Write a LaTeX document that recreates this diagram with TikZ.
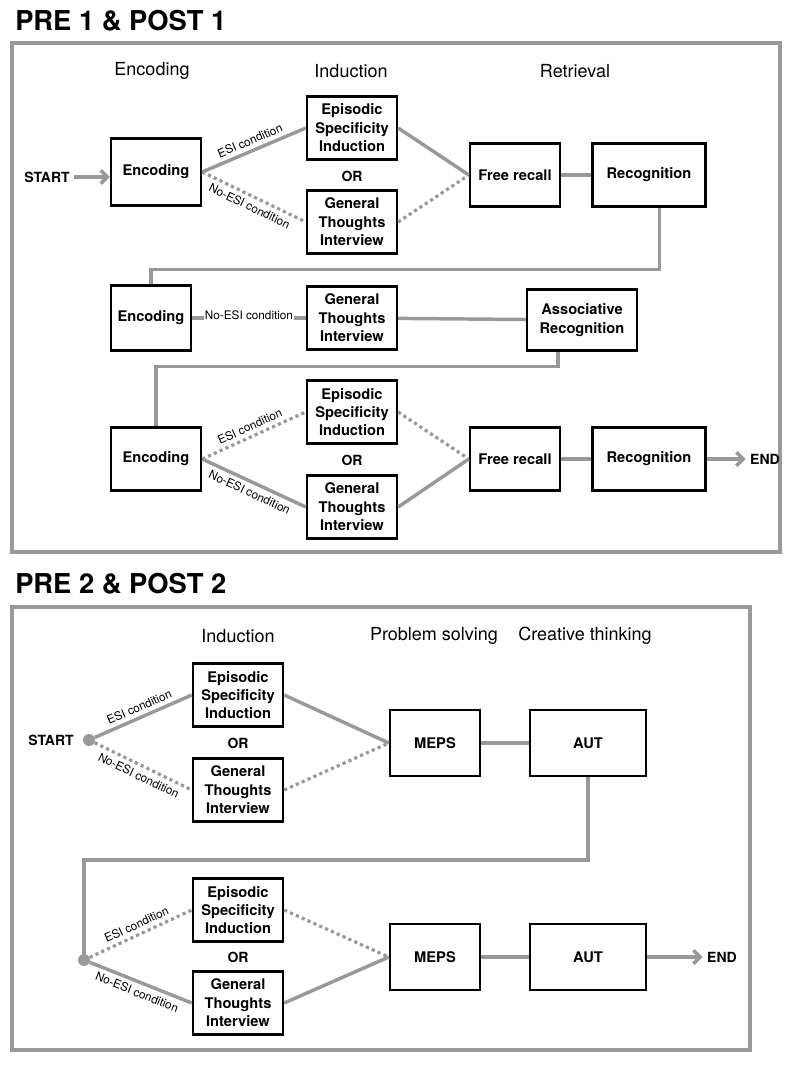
\documentclass[tikz,border=0pt]{standalone}
\usepackage{fontspec}
\setmainfont{TeX Gyre Heros}
\usetikzlibrary{arrows.meta,positioning}

\begin{document}
\begin{tikzpicture}[x=0.75pt, y=-0.75pt,
  stg/.style={rectangle, draw=black, line width=1.8pt, minimum width=67.5pt,
              minimum height=47pt, align=center, inner sep=2pt,
              font=\fontsize{11}{13.8}\selectfont\bfseries},
  hd/.style={font=\fontsize{13.5}{16}\selectfont},
  ttl/.style={font=\fontsize{20.5}{24}\selectfont\bfseries, anchor=west, inner sep=0pt},
  lbl/.style={font=\fontsize{10.5}{13}\selectfont\bfseries},
  cnd/.style={font=\fontsize{8.8}{10}\selectfont, sloped, inner sep=3pt},
  ln/.style={draw=black!40, line width=2.6pt},
  dln/.style={draw=black!40, line width=2.4pt, dash pattern=on 2.4pt off 2.4pt},
  frm/.style={draw=black!40, line width=3pt},
  arr/.style={ln, -{Straight Barb[length=5pt,width=10pt]}},
  dot/.style={circle, fill=black!40, minimum size=9pt, inner sep=0pt}
]
  \useasboundingbox (0,0) rectangle (800,1066);

  % PRE 1 & POST 1
  \node[ttl] (t1) at (15,21) {PRE 1 \& POST 1};
  \draw[frm] (12,43) rectangle (780,552);
  \node[hd] (h1) at (152,71) {Encoding};
  \node[hd] (h2) at (351,71) {Induction};
  \node[hd] (h3) at (575,71) {Retrieval};

  \node[lbl] (st1) at (47,177) {START};
  \node[stg, minimum height=50pt] (en1) at (156,172) {Encoding};
  \node[stg] (esi1) at (352,128) {Episodic\\Specificity\\Induction};
  \node[lbl] (or1) at (352,176) {OR};
  \node[stg] (gti1) at (352,222) {General\\Thoughts\\Interview};
  \node[stg] (fr1) at (515,175) {Free recall};
  \node[stg, minimum width=85pt] (rc1) at (649,175) {Recognition};

  \node[stg, minimum width=60pt, minimum height=49pt] (en2) at (151,318) {Encoding};
  \node[stg] (gti2) at (352,318) {General\\Thoughts\\Interview};
  \node[stg, minimum width=82.5pt, minimum height=46pt] (ar2) at (582,320) {Associative\\Recognition};

  \node[stg] (en3) at (156,459) {Encoding};
  \node[stg] (esi3) at (352,412) {Episodic\\Specificity\\Induction};
  \node[lbl] (or3) at (352,460) {OR};
  \node[stg] (gti3) at (352,507) {General\\Thoughts\\Interview};
  \node[stg] (fr3) at (515,459) {Free recall};
  \node[stg, minimum width=85pt] (rc3) at (649,459) {Recognition};
  \node[lbl] (end1) at (765,459) {END};

  \draw[arr] (st1.east) -- (st1.east -| en1.west);
  \draw[ln] (en1.east) -- node[cnd, above] {ESI condition} (esi1.west);
  \draw[dln] (en1.east) -- node[cnd, below] {No-ESI condition} (gti1.west);
  \draw[ln] (esi1.east) -- (fr1.west);
  \draw[dln] (gti1.east) -- (fr1.west);
  \draw[ln] (fr1) -- (rc1);
  \draw[ln] ([xshift=8pt]rc1.south) |- ([yshift=11pt]en2.north) -- (en2.north);

  \draw[ln] (en2) -- node[cnd, fill=white, inner sep=1pt, yshift=2pt] {No-ESI condition} (gti2);
  \draw[ln] (gti2) -- (ar2);
  \draw[ln] ([xshift=-18pt]ar2.south) |- ([yshift=45pt]en3.north) -- (en3.north);

  \draw[dln] (en3.east) -- node[cnd, above] {ESI condition} (esi3.west);
  \draw[ln] (en3.east) -- node[cnd, below] {No-ESI condition} (gti3.west);
  \draw[dln] (esi3.east) -- (fr3.west);
  \draw[ln] (gti3.east) -- (fr3.west);
  \draw[ln] (fr3) -- (rc3);
  \draw[arr] (rc3.east) -- (end1.west);

  % PRE 2 & POST 2
  \node[ttl] (t2) at (15,584) {PRE 2 \& POST 2};
  \draw[frm] (12,607) rectangle (750,1050);
  \node[hd] (h4) at (238,636) {Induction};
  \node[hd] (h5) at (434,636) {Problem solving};
  \node[hd] (h6) at (585,636) {Creative thinking};

  \node[lbl] (st2) at (51,740) {START};
  \node[dot] (d1) at (89,740) {};
  \node[stg] (esi4) at (238,695) {Episodic\\Specificity\\Induction};
  \node[lbl] (or4) at (238,743) {OR};
  \node[stg] (gti4) at (238,790) {General\\Thoughts\\Interview};
  \node[stg, minimum height=49.5pt] (mp4) at (435,743) {MEPS};
  \node[stg, minimum width=87pt, minimum height=49.5pt] (au4) at (588,743) {AUT};

  \node[dot] (d2) at (84,960) {};
  \node[stg] (esi5) at (238,910) {Episodic\\Specificity\\Induction};
  \node[lbl] (or5) at (238,957) {OR};
  \node[stg] (gti5) at (238,1003) {General\\Thoughts\\Interview};
  \node[stg, minimum height=49.5pt] (mp5) at (435,957) {MEPS};
  \node[stg, minimum width=87pt, minimum height=49.5pt] (au5) at (588,957) {AUT};
  \node[lbl] (end2) at (722,957) {END};
  \coordinate (bend) at (84,860);

  \draw[ln] (d1) -- node[cnd, above] {ESI condition} (esi4.west);
  \draw[dln] (d1) -- node[cnd, below] {No-ESI condition} (gti4.west);
  \draw[ln] (esi4.east) -- (mp4.west);
  \draw[dln] (gti4.east) -- (mp4.west);
  \draw[ln] (mp4) -- (au4);
  \draw[ln] (au4.south) |- (bend) -- (d2);

  \draw[dln] (d2) -- node[cnd, above] {ESI condition} (esi5.west);
  \draw[ln] (d2) -- node[cnd, below] {No-ESI condition} (gti5.west);
  \draw[dln] (esi5.east) -- (mp5.west);
  \draw[ln] (gti5.east) -- (mp5.west);
  \draw[ln] (mp5) -- (au5);
  \draw[arr] (au5.east) -- (end2.west);
\end{tikzpicture}
\end{document}
